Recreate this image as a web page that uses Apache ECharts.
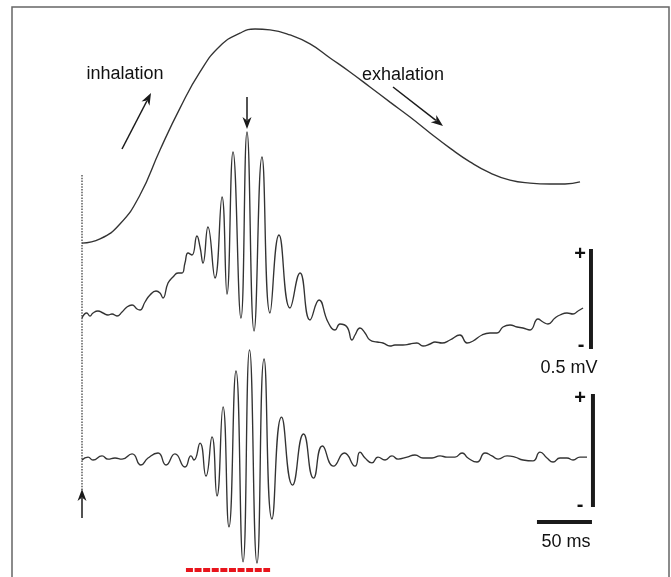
<!DOCTYPE html>
<html>
<head>
<meta charset="utf-8">
<script src="https://cdn.jsdelivr.net/npm/echarts@6/dist/echarts.min.js"></script>
<style>
  html, body { margin: 0; padding: 0; background: #fff; }
  #chart { width: 671px; height: 577px; }
</style>
</head>
<body>
<div id="chart"></div>
<script>
// time in ms from the dotted line (stimulus onset)
// respiration, arbitrary units
var respTrace = [
  [0, 3.0], [16.4, 4.8], [34.5, 11.3], [52.7, 23.9], [70.9, 43.5], [89.1, 61.7],
  [107.3, 77.4], [125.5, 88.7], [143.6, 94.3], [157.3, 96.1], [170.9, 95.7],
  [189.1, 93.5], [207.3, 89.6], [225.5, 83.5], [243.6, 77.4], [261.8, 70.9],
  [280, 64.3], [298.2, 57.8], [316.4, 50.9], [334.5, 44.3], [352.7, 38.3],
  [370.9, 33.5], [389.1, 30.4], [407.3, 29.1], [425.5, 28.7], [439.1, 28.7], [452.7, 29.6]
];

// raw LFP, µV
var rawTrace = [
  [0, -15], [4.3, 10], [7.3, -5], [10, 10], [14.5, 20], [19.1, 10], [23.6, 0], [27.3, 5],
  [31.8, -5], [36.4, 15], [40.9, 40], [45.5, 50], [50, 30], [52.7, 25], [57.3, 65],
  [61.8, 100], [67.3, 120], [70.9, 110], [73.6, 85], [78.2, 160], [82.7, 190], [87.3, 210],
  [90.9, 210], [93.6, 260], [96.4, 310], [100, 300], [104.5, 395], [107.3, 340], [110, 260],
  [114.5, 440], [120.9, 185], [127.3, 590], [131.8, 105], [137.3, 815], [144.5, -15],
  [150, 915], [156.4, -80], [163.6, 790], [170.9, 10], [179.1, 400], [189.1, 35],
  [198.2, 210], [207.3, -25], [215.5, 75], [223.6, -35], [230, -75], [234.5, -45],
  [240.9, -60], [245.5, -125], [248.2, -100], [252.7, -65], [257.3, -90], [261.8, -125],
  [268.2, -135], [273.6, -140], [280, -155], [284.5, -150], [291.8, -150], [298.2, -145],
  [304.5, -140], [310, -155], [316.4, -145], [320.9, -135], [327.3, -140], [334.5, -125],
  [343.6, -100], [350, -140], [355.5, -130], [363.6, -100], [370.9, -90], [377.3, -90],
  [382.7, -60], [389.1, -50], [395.5, -60], [400.9, -65], [407.3, -75], [414.5, -20],
  [419.1, -35], [423.6, -45], [430, -15], [434.5, 0], [440.9, 10], [446.4, 5],
  [450.9, 20], [455.5, 35]
];

// band-pass filtered LFP, µV
var filtTrace = [
  [0, 0], [5.5, 13], [10, 0], [18.2, 18], [23.6, 4], [30, 9], [36.4, 4], [45.5, 27],
  [53.6, -22], [60, 9], [69.1, 31], [76.4, -22], [84.5, 27], [93.6, -31], [99.1, 18],
  [101.8, 0], [107.3, 75], [112.7, -71], [118.2, 102], [122.7, -159], [128.2, 235],
  [133.6, -296], [140, 394], [146.4, -451], [152.3, 487], [159.1, -456], [165.5, 447],
  [172.7, -261], [181.4, 190], [191.4, -111], [201.4, 115], [210.5, -80], [218.6, 62],
  [228.6, -27], [238.6, 31], [248.2, -27], [252.7, 35], [257.3, 9], [263.6, -13],
  [269.1, 13], [275.5, 0], [281.8, 18], [287.3, 4], [295.5, 13], [302.7, 22], [310, 9],
  [318.2, 9], [325.5, 18], [331.8, 13], [339.1, 13], [345.5, 31], [350.9, 9], [359.1, -9],
  [366.4, 31], [372.7, 18], [378.2, 4], [386.4, 18], [393.6, 13], [400.9, 0], [410, -4],
  [416.4, 35], [422.7, 9], [428.2, -9], [434.5, 9], [440.9, 9], [446.4, 0], [452.7, 13],
  [459.1, 13]
];

// burst window (ms) marked in red
var burstWindow = [94.5, 171];
// scale bars: 0.5 mV and 50 ms
var scaleMv = 500;
var scaleMs = 50;

var chart = echarts.init(document.getElementById('chart'));

function arrow(x1, y1, x2, y2) {
  var dx = x2 - x1, dy = y2 - y1;
  var L = Math.sqrt(dx * dx + dy * dy);
  var ux = dx / L, uy = dy / L;
  var hl = 12, hw = 4.5;
  var bx = x2 - ux * hl, by = y2 - uy * hl;
  return [
    { type: 'line', shape: { x1: x1, y1: y1, x2: bx + ux * 3, y2: by + uy * 3 },
      style: { stroke: '#1a1a1a', lineWidth: 1.5 } },
    { type: 'polygon',
      shape: { points: [[x2, y2], [bx - uy * hw, by + ux * hw], [bx + ux * 3.5, by + uy * 3.5], [bx + uy * hw, by - ux * hw]] },
      style: { fill: '#1a1a1a' } }
  ];
}

function label(text, x, y, size, weight) {
  return {
    type: 'text', x: x, y: y,
    style: {
      text: text, fill: '#111',
      font: (weight || 'normal') + ' ' + size + 'px "Liberation Sans", Arial, sans-serif',
      align: 'center', verticalAlign: 'middle'
    }
  };
}

var traceStyle = { color: '#333', width: 1.35 };
var barStyle = { color: '#1a1a1a', width: 4, cap: 'butt' };

var grids = [
  { left: 82, top: 20, width: 517, height: 230 },
  { left: 82, top: 115, width: 517, height: 250 },
  { left: 82, top: 347, width: 517, height: 226 }
];

var graphics = [
  { type: 'rect', shape: { x: 12, y: 7, width: 657, height: 620 },
    style: { fill: 'none', stroke: '#666', lineWidth: 1.5 }, z: -1 },
  { type: 'line', shape: { x1: 82, y1: 175, x2: 82, y2: 490 },
    style: { stroke: '#333', lineWidth: 1.2, lineDash: [1.5, 1.3] } },
  label('inhalation', 125, 74, 18),
  label('exhalation', 403, 75, 18),
  label('+', 580, 254, 20, 'bold'),
  label('-', 581, 345, 20, 'bold'),
  label('0.5 mV', 569, 368, 18),
  label('+', 580, 398, 20, 'bold'),
  label('-', 580, 505, 20, 'bold'),
  label('50 ms', 566, 542, 18)
].concat(
  arrow(122, 149, 151, 93),
  arrow(393, 87, 443, 126),
  arrow(247, 97, 247, 129),
  arrow(82, 518, 82, 489)
);

chart.setOption({
  animation: false,
  backgroundColor: '#fff',
  grid: grids,
  xAxis: [0, 1, 2].map(function (i) {
    return { type: 'value', gridIndex: i, min: 0, max: 470, show: false };
  }),
  yAxis: [
    { type: 'value', gridIndex: 0, min: 0, max: 100, show: false },
    { type: 'value', gridIndex: 1, min: -250, max: 1000, show: false },
    { type: 'value', gridIndex: 2, min: -500, max: 500, show: false }
  ],
  graphic: graphics,
  series: [
    { type: 'line', xAxisIndex: 0, yAxisIndex: 0, data: respTrace, smooth: 0.5,
      showSymbol: false, lineStyle: traceStyle, clip: false },
    { type: 'line', xAxisIndex: 1, yAxisIndex: 1, data: rawTrace, smooth: 0.5,
      showSymbol: false, lineStyle: traceStyle, clip: false },
    { type: 'line', xAxisIndex: 2, yAxisIndex: 2, data: filtTrace, smooth: 0.55,
      showSymbol: false, lineStyle: traceStyle, clip: false },
    // 0.5 mV bar, raw trace
    { type: 'line', xAxisIndex: 1, yAxisIndex: 1, showSymbol: false, lineStyle: barStyle,
      data: [[462.7, -170], [462.7, -170 + scaleMv]] },
    // 0.5 mV bar, filtered trace
    { type: 'line', xAxisIndex: 2, yAxisIndex: 2, showSymbol: false, lineStyle: barStyle,
      data: [[464.5, -208], [464.5, -208 + scaleMv]] },
    // 50 ms bar
    { type: 'line', xAxisIndex: 2, yAxisIndex: 2, showSymbol: false, lineStyle: barStyle,
      data: [[413.6, -274], [413.6 + scaleMs, -274]] },
    // burst window
    { type: 'line', xAxisIndex: 2, yAxisIndex: 2, showSymbol: false,
      lineStyle: { color: '#e8141c', width: 4, type: [7, 1.6], cap: 'butt' },
      data: [[burstWindow[0], -487], [burstWindow[1], -487]] }
  ]
});
</script>
</body>
</html>
